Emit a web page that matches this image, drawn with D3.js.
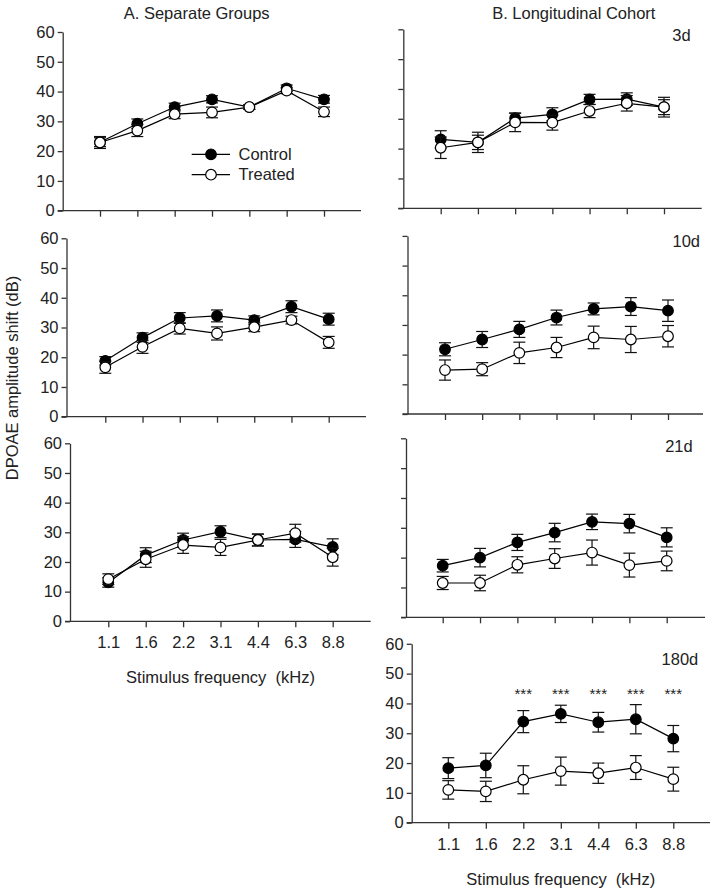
<!DOCTYPE html>
<html>
<head>
<meta charset="utf-8">
<script src="https://cdn.jsdelivr.net/npm/d3@7"></script>
<style>
  html, body { margin: 0; padding: 0; background: #fff; }
  text { font-family: "Liberation Sans", Arial, sans-serif; fill: #222; }
</style>
</head>
<body>
<svg id="chart" width="712" height="889"></svg>
<script>
// ---------- data ----------
const freqs = ["1.1", "1.6", "2.2", "3.1", "4.4", "6.3", "8.8"];
const yTicks = [0, 10, 20, 30, 40, 50, 60];
const seriesNames = ["Control", "Treated"];

// A. Separate Groups (three panels)
const a1Control = [23.0, 29.2, 34.8, 37.4, 34.8, 41.1, 37.4];
const a1ControlErr = [1.5, 1.6, 1.3, 1.2, 0.8, 1.1, 1.3];
const a1Treated = [22.9, 26.9, 32.4, 33.0, 34.8, 40.3, 33.2];
const a1TreatedErr = [2.0, 2.0, 1.5, 1.8, 0.8, 1.0, 1.6];

const a2Control = [18.8, 26.6, 33.2, 33.9, 32.5, 37.0, 32.8];
const a2ControlErr = [1.4, 1.6, 1.8, 2.0, 1.4, 2.0, 2.0];
const a2Treated = [16.6, 23.5, 29.7, 28.0, 30.1, 32.5, 25.0];
const a2TreatedErr = [2.0, 2.2, 1.9, 2.2, 1.5, 1.3, 2.0];

const a3Control = [13.1, 22.3, 27.4, 30.2, 27.4, 27.6, 25.1];
const a3ControlErr = [1.6, 2.5, 2.3, 2.0, 2.0, 2.7, 2.7];
const a3Treated = [14.2, 20.9, 25.7, 24.9, 27.4, 29.7, 21.6];
const a3TreatedErr = [1.8, 2.7, 2.8, 2.7, 2.0, 3.0, 3.0];

// B. Longitudinal Cohort (3d, 10d, 21d, 180d)
const b1Control = [23.1, 22.1, 30.2, 31.5, 36.5, 36.6, 33.9];
const b1ControlErr = [2.9, 2.4, 1.7, 2.2, 1.7, 2.1, 2.5];
const b1Treated = [20.3, 22.1, 28.8, 28.7, 32.6, 35.2, 33.9];
const b1TreatedErr = [3.6, 3.4, 3.1, 2.5, 2.2, 2.6, 3.3];

const b2Control = [21.8, 25.1, 28.5, 32.5, 35.4, 36.2, 34.8];
const b2ControlErr = [2.2, 2.7, 2.7, 2.5, 2.0, 3.0, 3.6];
const b2Treated = [14.8, 15.1, 20.6, 22.4, 25.8, 25.1, 26.2];
const b2TreatedErr = [3.4, 2.2, 3.6, 3.4, 3.8, 4.4, 3.6];

const b3Control = [17.3, 20.0, 25.1, 28.4, 32.0, 31.4, 26.8];
const b3ControlErr = [2.1, 3.1, 2.7, 3.1, 2.6, 3.1, 3.2];
const b3Treated = [11.5, 11.5, 17.6, 19.7, 21.7, 17.5, 18.9];
const b3TreatedErr = [2.2, 2.6, 2.7, 3.3, 4.2, 4.0, 3.3];

const b4Control = [18.3, 19.2, 33.9, 36.5, 33.7, 34.7, 28.2];
const b4ControlErr = [3.5, 4.1, 3.7, 2.9, 3.3, 4.9, 4.4];
const b4Treated = [11.0, 10.5, 14.4, 17.3, 16.6, 18.5, 14.6];
const b4TreatedErr = [3.1, 3.4, 4.7, 4.7, 3.4, 4.0, 4.0];
const b4Stars = ["", "", "***", "***", "***", "***", "***"];

const panelLabels = ["", "", "", "3d", "10d", "21d", "180d"];
const columnTitles = ["A. Separate Groups", "B. Longitudinal Cohort"];
const xTitle = "Stimulus frequency\u00A0\u00A0(kHz)";
const yTitle = "DPOAE amplitude shift (dB)";

// ---------- layout (pixel geometry of each panel) ----------
const layout = [
  {ax: 62.7, y0: 210.7, y60: 32.0,  x1: 100.0, x7: 324.0, xEnd: 361,  yLabels: true,  xLabels: false, lx: 0,     ly: 0},
  {ax: 66.5, y0: 416.7, y60: 238.3, x1: 105.3, x7: 328.7, xEnd: 366,  yLabels: true,  xLabels: false, lx: 0,     ly: 0},
  {ax: 70.0, y0: 621.3, y60: 443.3, x1: 108.3, x7: 332.7, xEnd: 370.7, yLabels: true, xLabels: true,  lx: 0,     ly: 0},
  {ax: 403.3, y0: 208.3, y60: 29.3, x1: 440.7, x7: 664.0, xEnd: 701.7, yLabels: false, xLabels: false, lx: 690.7, ly: 40.5},
  {ax: 407.5, y0: 414.0, y60: 235.9, x1: 445.0, x7: 668.0, xEnd: 703,  yLabels: false, xLabels: false, lx: 700,   ly: 247},
  {ax: 406.0, y0: 617.3, y60: 438.3, x1: 442.7, x7: 666.7, xEnd: 705,  yLabels: false, xLabels: false, lx: 692.7, ly: 452},
  {ax: 411.7, y0: 822.7, y60: 643.8, x1: 448.3, x7: 673.3, xEnd: 710,  yLabels: true,  xLabels: true,  lx: 698.3, ly: 664.5}
];

const panelData = [
  [a1Control, a1ControlErr, a1Treated, a1TreatedErr],
  [a2Control, a2ControlErr, a2Treated, a2TreatedErr],
  [a3Control, a3ControlErr, a3Treated, a3TreatedErr],
  [b1Control, b1ControlErr, b1Treated, b1TreatedErr],
  [b2Control, b2ControlErr, b2Treated, b2TreatedErr],
  [b3Control, b3ControlErr, b3Treated, b3TreatedErr],
  [b4Control, b4ControlErr, b4Treated, b4TreatedErr]
];

const svg = d3.select("#chart");
const FONT = 16.5;
const AXIS = "#333";
const R = 5.3;
const CAP = 6;

panelData.forEach((pd, pi) => {
  const L = layout[pi];
  const g = svg.append("g");
  const x = d3.scalePoint().domain(freqs).range([L.x1, L.x7]);
  const y = d3.scaleLinear().domain([0, 60]).range([L.y0, L.y60]);

  // y axis
  const yAxis = d3.axisLeft(y).tickValues(yTicks).tickSize(5).tickSizeOuter(0)
    .tickFormat(L.yLabels ? d3.format("d") : () => "");
  const yg = g.append("g").attr("transform", `translate(${L.ax},0)`).call(yAxis);
  yg.select(".domain").attr("stroke", AXIS).attr("stroke-width", 1.3);
  yg.selectAll(".tick line").attr("stroke", AXIS).attr("stroke-width", 1.3);
  yg.selectAll(".tick text").attr("font-size", FONT).attr("font-family", "Liberation Sans, Arial, sans-serif")
    .attr("fill", "#222").attr("x", -8);

  // x axis
  const xAxis = d3.axisBottom(x).tickSize(6).tickSizeOuter(0)
    .tickFormat(L.xLabels ? (d => d) : () => "");
  const xg = g.append("g").attr("transform", `translate(0,${L.y0})`).call(xAxis);
  xg.select(".domain").attr("d", `M${L.ax - 5},0H${L.xEnd}`).attr("stroke", AXIS).attr("stroke-width", 1.3);
  xg.selectAll(".tick line").attr("stroke", AXIS).attr("stroke-width", 1.3);
  xg.selectAll(".tick text").attr("font-size", FONT).attr("font-family", "Liberation Sans, Arial, sans-serif")
    .attr("fill", "#222").attr("dy", "1.1em");

  if (L.xLabels) {
    g.append("text").attr("x", (L.x1 + L.x7) / 2).attr("y", L.y0 + 62)
      .attr("text-anchor", "middle").attr("font-size", FONT).text(xTitle);
  }

  const series = [
    {vals: pd[0], err: pd[1], fill: "#000"},
    {vals: pd[2], err: pd[3], fill: "#fff"}
  ];

  series.forEach(s => {
    const pts = freqs.map((f, i) => ({f, v: s.vals[i], e: s.err[i]}));
    const eb = g.append("g").attr("stroke", "#111").attr("stroke-width", 1.2).attr("fill", "none");
    pts.forEach(p => {
      const cx = x(p.f);
      eb.append("line").attr("x1", cx).attr("x2", cx).attr("y1", y(p.v - p.e)).attr("y2", y(p.v + p.e));
      eb.append("line").attr("x1", cx - CAP).attr("x2", cx + CAP).attr("y1", y(p.v + p.e)).attr("y2", y(p.v + p.e));
      eb.append("line").attr("x1", cx - CAP).attr("x2", cx + CAP).attr("y1", y(p.v - p.e)).attr("y2", y(p.v - p.e));
    });
    g.append("path").datum(pts)
      .attr("d", d3.line().x(p => x(p.f)).y(p => y(p.v)))
      .attr("fill", "none").attr("stroke", "#000").attr("stroke-width", 1.2);
    g.selectAll(null).data(pts).enter().append("circle")
      .attr("cx", p => x(p.f)).attr("cy", p => y(p.v)).attr("r", R)
      .attr("fill", s.fill).attr("stroke", "#000").attr("stroke-width", 1.2);
  });

  if (panelLabels[pi]) {
    g.append("text").attr("x", L.lx).attr("y", L.ly).attr("text-anchor", "end")
      .attr("font-size", FONT).text(panelLabels[pi]);
  }

  if (pi === 6) {
    g.selectAll(null).data(freqs.map((f, i) => ({f, s: b4Stars[i]}))).enter().append("text")
      .attr("x", d => x(d.f)).attr("y", 699)
      .attr("text-anchor", "middle").attr("font-size", 15)
      .text(d => d.s);
  }

  if (pi === 0) {
    const lg = g.append("g");
    const legendRows = [{name: seriesNames[0], fill: "#000", yy: 154.3}, {name: seriesNames[1], fill: "#fff", yy: 174.7}];
    legendRows.forEach(r => {
      lg.append("line").attr("x1", 191.7).attr("x2", 230).attr("y1", r.yy).attr("y2", r.yy)
        .attr("stroke", "#000").attr("stroke-width", 1.2);
      lg.append("circle").attr("cx", 211).attr("cy", r.yy).attr("r", R)
        .attr("fill", r.fill).attr("stroke", "#000").attr("stroke-width", 1.2);
      lg.append("text").attr("x", 238.5).attr("y", r.yy).attr("dy", "0.35em")
        .attr("font-size", FONT).text(r.name);
    });
  }
});

svg.append("text").attr("x", 196.7).attr("y", 18.5).attr("text-anchor", "middle")
  .attr("font-size", FONT).text(columnTitles[0]);
svg.append("text").attr("x", 573.8).attr("y", 18.5).attr("text-anchor", "middle")
  .attr("font-size", FONT).text(columnTitles[1]);

svg.append("text").attr("transform", "translate(18,378) rotate(-90)")
  .attr("text-anchor", "middle").attr("font-size", FONT).text(yTitle);
</script>
</body>
</html>
